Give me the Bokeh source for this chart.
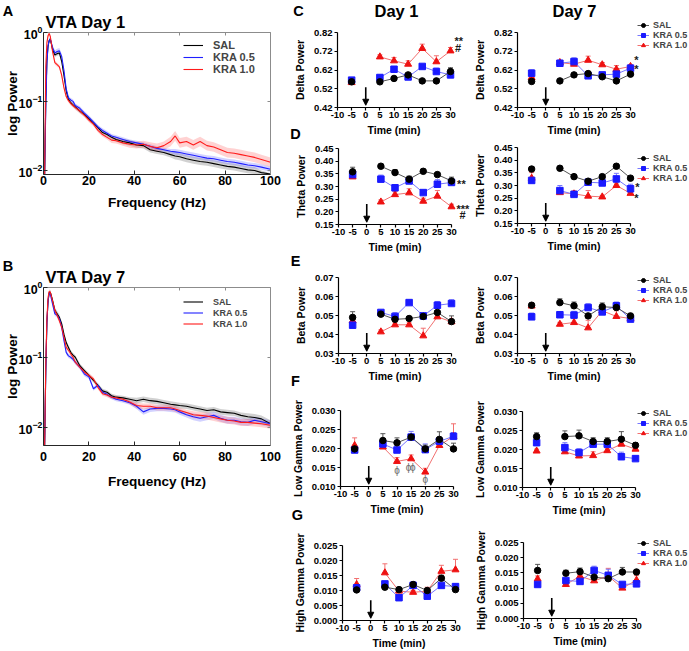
from bokeh.plotting import figure
from bokeh.models import (Range1d, FixedTicker, NumeralTickFormatter, Label, Legend, LegendItem,
                          Whisker, TeeHead, Arrow, NormalHead, ColumnDataSource, LinearAxis, LogAxis,
                          CustomJSTickFormatter)
from bokeh.layouts import row, column
from bokeh.embed import file_html
from bokeh.resources import INLINE
from bokeh.core.properties import value

FONT = "Liberation Sans"

# ---------------- spectra data (log10 power) ----------------
FREQ = [0.5, 1, 1.5, 2, 2.5, 3, 4, 5, 6, 7, 8, 9, 10, 11, 12, 13, 14, 16, 18, 20, 22, 24, 26, 28, 30, 32,
        35, 38, 41, 44, 47, 50, 53, 56, 58, 60, 63, 66, 69, 72, 75, 78, 81, 84, 87, 90, 93, 96, 100]
FREQ_TICKS = [0, 20, 40, 60, 80, 100]
LOG_TICKS = [0.01, 0.1, 1]

A_SAL = [-2.06, -1.0, -0.4, -0.2, -0.12, -0.1, -0.25, -0.33, -0.31, -0.3, -0.42, -0.62, -0.85, -0.97, -1.02, -1.05, -1.08,
         -1.14, -1.19, -1.25, -1.31, -1.38, -1.45, -1.48, -1.52, -1.55, -1.58, -1.6, -1.63, -1.64, -1.7, -1.72, -1.74,
         -1.77, -1.79, -1.8, -1.83, -1.85, -1.87, -1.88, -1.9, -1.92, -1.94, -1.95, -1.97, -1.99, -2.0, -2.03, -2.05]
A_K05 = [-2.06, -1.1, -0.45, -0.2, -0.12, -0.1, -0.22, -0.3, -0.28, -0.27, -0.35, -0.55, -0.82, -0.95, -0.98, -1.0, -1.06,
         -1.1, -1.17, -1.23, -1.3, -1.37, -1.42, -1.46, -1.5, -1.52, -1.55, -1.58, -1.6, -1.62, -1.65, -1.68, -1.7,
         -1.72, -1.73, -1.74, -1.76, -1.78, -1.8, -1.82, -1.83, -1.85, -1.87, -1.88, -1.9, -1.92, -1.93, -1.95, -1.98]
A_K10 = [-2.06, -0.5, -0.15, -0.05, -0.02, -0.06, -0.28, -0.44, -0.47, -0.5, -0.62, -0.8, -0.93, -0.99, -1.03, -1.06, -1.09,
         -1.14, -1.2, -1.27, -1.33, -1.42, -1.48, -1.52, -1.56, -1.57, -1.6, -1.62, -1.63, -1.62, -1.65, -1.67, -1.64,
         -1.58, -1.5, -1.6, -1.58, -1.63, -1.58, -1.64, -1.66, -1.7, -1.74, -1.75, -1.77, -1.79, -1.81, -1.84, -1.88]
A_SAL_W = [0.0, 0.03, 0.03, 0.03, 0.03, 0.03, 0.03, 0.03, 0.03, 0.03, 0.03, 0.03, 0.03, 0.03, 0.03, 0.03, 0.03,
           0.03, 0.03, 0.03, 0.03, 0.03, 0.03, 0.03, 0.03, 0.03, 0.04, 0.04, 0.04, 0.04, 0.04, 0.04, 0.04,
           0.04, 0.05, 0.05, 0.05, 0.05, 0.05, 0.05, 0.05, 0.05, 0.05, 0.05, 0.05, 0.05, 0.05, 0.03, 0.01]
A_K05_W = [0.0, 0.03, 0.03, 0.03, 0.03, 0.03, 0.03, 0.04, 0.04, 0.04, 0.04, 0.03, 0.03, 0.03, 0.03, 0.03, 0.03,
           0.03, 0.03, 0.03, 0.03, 0.03, 0.03, 0.03, 0.03, 0.03, 0.03, 0.03, 0.03, 0.03, 0.03, 0.03, 0.03,
           0.03, 0.04, 0.04, 0.04, 0.04, 0.04, 0.04, 0.04, 0.04, 0.04, 0.04, 0.04, 0.04, 0.04, 0.04, 0.04]
A_K10_W = [0.0, 0.03, 0.03, 0.03, 0.03, 0.03, 0.03, 0.03, 0.03, 0.03, 0.03, 0.03, 0.03, 0.03, 0.03, 0.03, 0.03,
           0.03, 0.03, 0.03, 0.03, 0.03, 0.03, 0.03, 0.04, 0.04, 0.04, 0.05, 0.05, 0.05, 0.06, 0.06, 0.06,
           0.07, 0.07, 0.07, 0.07, 0.07, 0.07, 0.07, 0.07, 0.07, 0.07, 0.07, 0.07, 0.07, 0.07, 0.07, 0.07]

B_SAL = [-2.26, -1.2, -0.5, -0.2, -0.08, -0.07, -0.19, -0.33, -0.38, -0.43, -0.52, -0.67, -0.79, -0.86, -0.93, -0.97, -1.0,
         -1.12, -1.19, -1.26, -1.33, -1.4, -1.48, -1.5, -1.55, -1.57, -1.58, -1.6, -1.62, -1.6, -1.62, -1.63, -1.65,
         -1.67, -1.68, -1.69, -1.7, -1.72, -1.74, -1.76, -1.75, -1.78, -1.79, -1.8, -1.83, -1.85, -1.86, -1.88, -1.95]
B_K05 = [-2.26, -1.2, -0.5, -0.2, -0.08, -0.1, -0.24, -0.38, -0.4, -0.45, -0.57, -0.76, -0.93, -0.98, -1.0, -1.03, -1.07,
         -1.14, -1.24, -1.28, -1.45, -1.4, -1.5, -1.53, -1.57, -1.6, -1.62, -1.65, -1.7, -1.78, -1.74, -1.73, -1.73,
         -1.74, -1.75, -1.78, -1.82, -1.85, -1.87, -1.85, -1.83, -1.87, -1.9, -1.9, -1.92, -1.93, -1.9, -1.92, -1.95]
B_K10 = [-2.26, -1.1, -0.45, -0.15, -0.06, -0.07, -0.2, -0.33, -0.4, -0.48, -0.57, -0.71, -0.86, -0.9, -0.95, -1.0, -1.07,
         -1.14, -1.21, -1.26, -1.31, -1.43, -1.52, -1.54, -1.57, -1.58, -1.6, -1.64, -1.69, -1.7, -1.7, -1.72, -1.72,
         -1.72, -1.74, -1.76, -1.79, -1.82, -1.83, -1.84, -1.86, -1.88, -1.9, -1.91, -1.93, -1.93, -1.94, -1.95, -1.97]
B_SAL_W = [0.0, 0.03, 0.03, 0.03, 0.03, 0.03, 0.04, 0.04, 0.04, 0.04, 0.03, 0.03, 0.03, 0.03, 0.03, 0.03, 0.03,
           0.03, 0.03, 0.03, 0.03, 0.03, 0.03, 0.03, 0.03, 0.03, 0.03, 0.03, 0.04, 0.04, 0.04, 0.04, 0.04,
           0.04, 0.04, 0.04, 0.04, 0.04, 0.04, 0.04, 0.04, 0.04, 0.04, 0.04, 0.04, 0.05, 0.05, 0.05, 0.05]
B_K05_W = [0.0, 0.03, 0.03, 0.03, 0.03, 0.03, 0.03, 0.03, 0.03, 0.03, 0.03, 0.03, 0.03, 0.03, 0.03, 0.03, 0.03,
           0.03, 0.03, 0.03, 0.03, 0.03, 0.03, 0.03, 0.03, 0.03, 0.03, 0.03, 0.04, 0.04, 0.04, 0.04, 0.04,
           0.04, 0.04, 0.04, 0.04, 0.05, 0.05, 0.05, 0.05, 0.05, 0.05, 0.05, 0.05, 0.05, 0.05, 0.05, 0.05]
B_K10_W = [0.0, 0.03, 0.03, 0.03, 0.03, 0.03, 0.04, 0.04, 0.04, 0.04, 0.04, 0.04, 0.03, 0.03, 0.03, 0.03, 0.03,
           0.03, 0.03, 0.03, 0.03, 0.03, 0.03, 0.03, 0.03, 0.03, 0.03, 0.03, 0.04, 0.04, 0.04, 0.04, 0.04,
           0.04, 0.04, 0.04, 0.04, 0.05, 0.05, 0.05, 0.05, 0.05, 0.05, 0.05, 0.05, 0.05, 0.05, 0.05, 0.05]

# ---------------- band power time courses ----------------
TIME = [-5, 5, 10, 15, 20, 25, 30]
TIME_TICKS = [-10, -5, 0, 5, 10, 15, 20, 25, 30]
TIME_TICK_TEXT = {-10: "-10", -5: "-5"}
SERIES = ["SAL", "KRA 0.5", "KRA 1.0"]

DELTA_TICKS = [0.42, 0.52, 0.62, 0.72, 0.82]
DELTA_D1_SAL = [0.557, 0.557, 0.575, 0.594, 0.562, 0.562, 0.612]
DELTA_D1_SAL_E = [0.01, 0.008, 0.008, 0.008, 0.006, 0.01, 0.02]
DELTA_D1_K05 = [0.566, 0.58, 0.624, 0.583, 0.639, 0.612, 0.594]
DELTA_D1_K05_E = [0.01, 0.014, 0.009, 0.014, 0.009, 0.018, 0.012]
DELTA_D1_K10 = [0.553, 0.69, 0.669, 0.651, 0.735, 0.664, 0.722]
DELTA_D1_K10_E = [0.008, 0.011, 0.018, 0.018, 0.023, 0.032, 0.018]
DELTA_D7_SAL = [0.559, 0.562, 0.594, 0.601, 0.584, 0.562, 0.598]
DELTA_D7_SAL_E = [0.008, 0.005, 0.006, 0.008, 0.008, 0.006, 0.006]
DELTA_D7_K05 = [0.603, 0.656, 0.665, 0.589, 0.594, 0.598, 0.63]
DELTA_D7_K05_E = [0.018, 0.016, 0.02, 0.01, 0.01, 0.012, 0.01]
DELTA_D7_K10 = [0.58, 0.66, 0.651, 0.672, 0.648, 0.624, 0.639]
DELTA_D7_K10_E = [0.012, 0.01, 0.01, 0.022, 0.012, 0.02, 0.01]

THETA_TICKS = [0.15, 0.20, 0.25, 0.30, 0.35, 0.40, 0.45]
THETA_D1_SAL = [0.358, 0.38, 0.355, 0.329, 0.36, 0.347, 0.322]
THETA_D1_SAL_E = [0.018, 0.006, 0.012, 0.012, 0.008, 0.008, 0.015]
THETA_D1_K05 = [0.347, 0.329, 0.295, 0.322, 0.276, 0.309, 0.316]
THETA_D1_K05_E = [0.01, 0.016, 0.01, 0.012, 0.006, 0.018, 0.006]
THETA_D1_K10 = [0.338, 0.239, 0.268, 0.275, 0.242, 0.262, 0.22]
THETA_D1_K10_E = [0.01, 0.008, 0.012, 0.016, 0.012, 0.022, 0.01]
THETA_D7_SAL = [0.365, 0.368, 0.335, 0.317, 0.335, 0.376, 0.329]
THETA_D7_SAL_E = [0.01, 0.006, 0.006, 0.006, 0.006, 0.008, 0.006]
THETA_D7_K05 = [0.32, 0.28, 0.265, 0.313, 0.31, 0.326, 0.287]
THETA_D7_K05_E = [0.012, 0.02, 0.01, 0.008, 0.008, 0.022, 0.018]
THETA_D7_K10 = [0.329, 0.272, 0.267, 0.258, 0.255, 0.3, 0.269]
THETA_D7_K10_E = [0.022, 0.008, 0.012, 0.022, 0.006, 0.01, 0.008]

BETA_TICKS = [0.03, 0.04, 0.05, 0.06, 0.07]
BETA_D1_SAL = [0.049, 0.0507, 0.048, 0.0484, 0.0495, 0.0516, 0.0468]
BETA_D1_SAL_E = [0.003, 0.001, 0.001, 0.001, 0.001, 0.001, 0.003]
BETA_D1_K05 = [0.0449, 0.0516, 0.0495, 0.0568, 0.0498, 0.0554, 0.0563]
BETA_D1_K05_E = [0.001, 0.001, 0.002, 0.001, 0.001, 0.002, 0.002]
BETA_D1_K10 = [0.0472, 0.0414, 0.0451, 0.0451, 0.0393, 0.0493, 0.0467]
BETA_D1_K10_E = [0.001, 0.001, 0.001, 0.001, 0.004, 0.003, 0.001]
BETA_D7_SAL = [0.0554, 0.0568, 0.0551, 0.0498, 0.0546, 0.0542, 0.0498]
BETA_D7_SAL_E = [0.001, 0.002, 0.002, 0.001, 0.002, 0.001, 0.001]
BETA_D7_K05 = [0.0493, 0.0504, 0.0502, 0.0542, 0.0519, 0.0551, 0.0481]
BETA_D7_K05_E = [0.002, 0.001, 0.002, 0.002, 0.001, 0.002, 0.001]
BETA_D7_K10 = [0.055, 0.0454, 0.0463, 0.0435, 0.0525, 0.0495, 0.0484]
BETA_D7_K10_E = [0.001, 0.001, 0.002, 0.004, 0.001, 0.003, 0.001]

LGAM_TICKS = [0.010, 0.015, 0.020, 0.025, 0.030]
LGAM_D1_SAL = [0.0199, 0.0221, 0.0215, 0.023, 0.0199, 0.0224, 0.0199]
LGAM_D1_SAL_E = [0.0008, 0.0018, 0.0013, 0.0005, 0.001, 0.002, 0.0015]
LGAM_D1_K05 = [0.0196, 0.0212, 0.0196, 0.023, 0.0197, 0.0219, 0.0232]
LGAM_D1_K05_E = [0.0006, 0.0008, 0.0008, 0.0015, 0.0015, 0.001, 0.001]
LGAM_D1_K10 = [0.0208, 0.0204, 0.0166, 0.0173, 0.0138, 0.0208, 0.0232]
LGAM_D1_K10_E = [0.002, 0.0005, 0.001, 0.001, 0.001, 0.0005, 0.0033]
LGAM_D7_SAL = [0.0234, 0.0234, 0.0236, 0.0221, 0.0221, 0.0227, 0.0211]
LGAM_D7_SAL_E = [0.001, 0.0015, 0.0015, 0.001, 0.001, 0.002, 0.0007]
LGAM_D7_K05 = [0.0218, 0.0205, 0.0192, 0.0214, 0.0214, 0.0181, 0.0176]
LGAM_D7_K05_E = [0.0006, 0.0013, 0.001, 0.001, 0.001, 0.0012, 0.0005]
LGAM_D7_K10 = [0.0196, 0.0194, 0.0183, 0.0184, 0.0197, 0.0214, 0.0201]
LGAM_D7_K10_E = [0.0005, 0.0005, 0.0005, 0.001, 0.0005, 0.001, 0.0005]

HGAM_TICKS = [0.000, 0.005, 0.010, 0.015, 0.020, 0.025]
HGAM_D1_SAL = [0.0102, 0.0111, 0.0103, 0.012, 0.01, 0.0141, 0.0103]
HGAM_D1_SAL_E = [0.0005, 0.0005, 0.0005, 0.0005, 0.0005, 0.001, 0.0005]
HGAM_D1_K05 = [0.0109, 0.0122, 0.0076, 0.0117, 0.0081, 0.0117, 0.0113]
HGAM_D1_K05_E = [0.0005, 0.0005, 0.0005, 0.0012, 0.0005, 0.0005, 0.001]
HGAM_D1_K10 = [0.012, 0.0159, 0.0098, 0.0094, 0.0098, 0.0164, 0.0169]
HGAM_D1_K10_E = [0.002, 0.003, 0.0012, 0.0005, 0.0013, 0.002, 0.0035]
HGAM_D7_SAL = [0.0158, 0.0149, 0.0154, 0.0136, 0.0131, 0.0153, 0.0153]
HGAM_D7_SAL_E = [0.002, 0.001, 0.0012, 0.0005, 0.0005, 0.0015, 0.0005]
HGAM_D7_K05 = [0.0112, 0.0125, 0.0122, 0.0158, 0.0142, 0.0112, 0.0114]
HGAM_D7_K05_E = [0.0005, 0.0005, 0.0005, 0.0014, 0.002, 0.0005, 0.0005]
HGAM_D7_K10 = [0.013, 0.0112, 0.0139, 0.0124, 0.014, 0.01, 0.0126]
HGAM_D7_K10_E = [0.001, 0.0005, 0.0005, 0.0005, 0.0025, 0.0005, 0.0015]

# significance marks: (text, time, value)
NOTES_DELTA_D1 = [("**", 32.9, 0.776), ("#", 32.7, 0.738)]
NOTES_DELTA_D7 = [("*", 32.1, 0.672), ("*", 32.1, 0.624)]
NOTES_THETA_D1 = [("**", 33.5, 0.309), ("***", 34.0, 0.212), ("#", 33.9, 0.186)]
NOTES_THETA_D7 = [("*", 32.4, 0.296), ("*", 32.1, 0.250)]
PHI_LGAM_D1 = [(10, 0.0142), (14.1, 0.0151), (15.6, 0.0151), (20, 0.0118)]

# ---------------- styling helpers ----------------
MARK = {"SAL": "#000000", "KRA 0.5": "#1a1aff", "KRA 1.0": "#ee1111"}
LINE = {"SAL": "#555555", "KRA 0.5": "#7777ff", "KRA 1.0": "#f27070"}
SHAPE = {"SAL": "circle", "KRA 0.5": "square", "KRA 1.0": "triangle"}
MSIZE = {"SAL": 6.5, "KRA 0.5": 6.5, "KRA 1.0": 7.0}
SPEC = {"SAL": "#000000", "KRA 0.5": "#1f1fff", "KRA 1.0": "#ff1a1a"}
BAND = {"SAL": ("#9a9a9a", 0.45), "KRA 0.5": ("#6a6aff", 0.3), "KRA 1.0": ("#ff6a6a", 0.3)}


def extend(v_lo, v_hi, p_lo, p_hi, p_min, p_max):
    s = (v_hi - v_lo) / (p_hi - p_lo)
    return v_lo + (p_min - p_lo) * s, v_lo + (p_max - p_lo) * s


def style_axis(ax, tick_px, lab_px, tin, tout, lsd, alsd, lw=1.0, color="#000000"):
    ax.major_label_text_font = FONT
    ax.major_label_text_font_style = "bold"
    ax.major_label_text_font_size = f"{tick_px}px"
    ax.major_label_text_color = "#000000"
    ax.axis_label_text_font = FONT
    ax.axis_label_text_font_style = "bold"
    ax.axis_label_text_font_size = f"{lab_px}px"
    ax.axis_label_text_color = "#000000"
    ax.major_tick_in = tin
    ax.major_tick_out = tout
    ax.minor_tick_in = 0
    ax.minor_tick_out = 0
    ax.axis_line_color = color
    ax.axis_line_width = lw
    ax.major_tick_line_color = color
    ax.major_tick_line_width = lw
    ax.major_label_standoff = lsd
    ax.axis_label_standoff = alsd


def base_fig(box, xr, yr, log=False):
    x0, y0, x1, y1 = box
    p = figure(width=x1 - x0, height=y1 - y0, x_range=Range1d(*xr), y_range=Range1d(*yr),
               y_axis_type="log" if log else "linear", output_backend="svg", toolbar_location=None,
               min_border_left=0, min_border_right=0, min_border_top=0, min_border_bottom=0)
    p.title.visible = False
    p.grid.visible = False
    p.outline_line_color = None
    return p


def add_text(p, box, text, x, y, size, align="center"):
    x0, y0, x1, y1 = box
    p.add_layout(Label(x=x - x0, y=y1 - y, x_units="screen", y_units="screen", text=text,
                       text_font=FONT, text_font_style="bold", text_font_size=f"{size}px",
                       text_align=align, text_baseline="middle", text_color="#000000"))


def spectrum_fig(box, dbox, ylog_lo, vals, widths, tick_sd, lab_sd, leg_top, leg_row, leg_font, texts):
    x0, y0, x1, y1 = box
    fx0, fy_top, fx1, fy_bot = dbox
    xr = extend(0, 100, fx0, fx1, x0, x1)
    ylo, yhi = extend(ylog_lo, 0.0, -fy_bot, -fy_top, -y1, -y0)
    p = base_fig(box, xr, (10 ** ylo, 10 ** yhi), log=True)
    bottom = 10 ** ylog_lo
    p.xaxis.fixed_location = bottom
    p.yaxis.fixed_location = 0
    p.xaxis.bounds = (0, 100)
    p.yaxis.bounds = (bottom, 1.0)
    p.xaxis.ticker = FixedTicker(ticks=FREQ_TICKS)
    p.yaxis.ticker = FixedTicker(ticks=LOG_TICKS)
    p.xaxis.axis_label = "Frequency (Hz)"
    p.yaxis.axis_label = "log Power"
    style_axis(p.xaxis[0], 12.5, 13.6, 4, 0, tick_sd, lab_sd, 1.0, "#262626")
    style_axis(p.yaxis[0], 12.5, 13.6, 4, 0, 1, -4, 1.0, "#262626")
    blank = CustomJSTickFormatter(code="return ''")
    top = LinearAxis(fixed_location=1.0, ticker=FixedTicker(ticks=FREQ_TICKS), formatter=blank, bounds=(0, 100))
    right = LogAxis(fixed_location=100, ticker=FixedTicker(ticks=LOG_TICKS), formatter=blank, bounds=(bottom, 1.0))
    for ax in (top, right):
        style_axis(ax, 1, 1, 3, 0, 0, 0, 1.0, "#8c8c8c")
    p.add_layout(top, "above")
    p.add_layout(right, "right")
    for name in SERIES:
        v, w = vals[name], widths[name]
        col, alpha = BAND[name]
        p.varea(x=FREQ, y1=[10 ** (a - b) for a, b in zip(v, w)], y2=[10 ** (a + b) for a, b in zip(v, w)],
                fill_color=col, fill_alpha=alpha)
    items = []
    for name in SERIES:
        r = p.line(FREQ, [10 ** a for a in vals[name]], line_color=SPEC[name], line_width=1.1)
        items.append(LegendItem(label=name, renderers=[r]))
    leg = Legend(items=items, location=(183 - x0, y1 - (leg_top + 3 * leg_row)),
                 glyph_width=20, glyph_height=leg_row, label_height=leg_row,
                 spacing=0, padding=0, margin=0, label_standoff=10,
                 label_text_font=FONT, label_text_font_style="bold", label_text_font_size=f"{leg_font}px",
                 background_fill_alpha=0, border_line_alpha=0)
    p.add_layout(leg)
    for (t, x, y, size, align) in texts:
        add_text(p, box, t, x, y, size, align)
    return p


def time_fig(box, dbox, ticks, fmt, ylabel, data, errs, notes=(), phis=(), legend_bottom=None, texts=()):
    x0, y0, x1, y1 = box
    fx0, fy0, fy1 = dbox
    ymin, ymax = ticks[0], ticks[-1]
    xr = extend(-10, 30, fx0, fx0 + 113, x0, x1)
    yr = extend(ymin, ymax, -fy1, -fy0, -y1, -y0)
    p = base_fig(box, xr, yr)
    p.xaxis.fixed_location = ymin
    p.yaxis.fixed_location = -10
    p.xaxis.ticker = FixedTicker(ticks=TIME_TICKS)
    p.xaxis.major_label_overrides = TIME_TICK_TEXT
    p.xaxis.bounds = (-10, 30)
    p.yaxis.ticker = FixedTicker(ticks=ticks)
    p.yaxis.bounds = (ymin, ymax)
    p.yaxis.formatter = NumeralTickFormatter(format=fmt)
    p.xaxis.axis_label = "Time (min)"
    p.yaxis.axis_label = ylabel
    style_axis(p.xaxis[0], 9.5, 10.5, 0, 3, 1, 3, 1.2)
    style_axis(p.yaxis[0], 9.5, 10.5, 0, 3, 2, 5, 1.2)
    rng = ymax - ymin
    p.add_layout(Arrow(end=NormalHead(size=6, fill_color="#000000", line_color="#000000", line_width=1),
                       x_start=0, y_start=ymin + 0.27 * rng, x_end=0, y_end=ymin + 0.03 * rng,
                       line_color="#000000", line_width=1.6))
    rends = {}
    for name in ["KRA 1.0", "KRA 0.5", "SAL"]:
        v, e = data[name], errs[name]
        src = ColumnDataSource(dict(x=TIME, y=v, hi=[a + b for a, b in zip(v, e)]))
        p.add_layout(Whisker(source=src, base="x", lower="y", upper="hi", line_color=LINE[name], line_width=1,
                             upper_head=TeeHead(size=5, line_color=LINE[name], line_width=1),
                             lower_head=None))
        ln = p.line(TIME[1:], v[1:], line_color=LINE[name], line_width=1)
        sc = p.scatter(TIME, v, marker=SHAPE[name], size=MSIZE[name], fill_color=MARK[name],
                       line_color=MARK[name])
        rends[name] = [ln, sc]
    if notes:
        p.text(x=[n[1] for n in notes], y=[n[2] for n in notes], text=[n[0] for n in notes],
               text_font=value(FONT), text_font_style="bold", text_font_size="11px",
               text_align="center", text_baseline="middle", text_color="#1a1a1a")
    if phis:
        p.text(x=[q[0] for q in phis], y=[q[1] for q in phis], text=["ϕ"] * len(phis),
               text_font=value(FONT), text_font_size="10px", text_align="center",
               text_baseline="middle", text_color="#6e6e6e")
    if legend_bottom is not None:
        items = [LegendItem(label=n, renderers=rends[n]) for n in SERIES]
        leg = Legend(items=items, location=(637 - x0, y1 - legend_bottom),
                     glyph_width=12, glyph_height=10, label_height=10, spacing=0, padding=0, margin=0,
                     label_standoff=4, label_text_font=FONT, label_text_font_style="bold",
                     label_text_font_size="9px", background_fill_alpha=0, border_line_alpha=0)
        p.add_layout(leg)
    for (t, x, y, size) in texts:
        add_text(p, box, t, x, y, size)
    return p


# ---------------- left column: spectra ----------------
pA = spectrum_fig((0, 0, 285, 255), (43, 31.7, 270, 174.2), -2.06,
                  {"SAL": A_SAL, "KRA 0.5": A_K05, "KRA 1.0": A_K10},
                  {"SAL": A_SAL_W, "KRA 0.5": A_K05_W, "KRA 1.0": A_K10_W},
                  1, 7, 39, 12, 11,
                  [("A", 7.5, 10, 14.5, "center"), ("VTA Day 1", 45, 21, 16.5, "left")])
pB = spectrum_fig((0, 255, 285, 650), (43, 286.7, 270, 445), -2.26,
                  {"SAL": B_SAL, "KRA 0.5": B_K05, "KRA 1.0": B_K10},
                  {"SAL": B_SAL_W, "KRA 0.5": B_K05_W, "KRA 1.0": B_K10_W},
                  6, 10, 296, 11, 9,
                  [("B", 7.5, 265, 14.5, "center"), ("VTA Day 7", 45, 276, 16.5, "left")])

# ---------------- right: band power panels ----------------
ROW_Y = [0, 141, 268, 389, 523, 650]
COL_X = [285, 470, 688]

panels = [
    dict(ticks=DELTA_TICKS, fmt="0.00", label="Delta Power", f1=(337, 32, 107), f7=(517, 32, 107), leg=50,
         d1=(DELTA_D1_SAL, DELTA_D1_K05, DELTA_D1_K10), e1=(DELTA_D1_SAL_E, DELTA_D1_K05_E, DELTA_D1_K10_E),
         d7=(DELTA_D7_SAL, DELTA_D7_K05, DELTA_D7_K10), e7=(DELTA_D7_SAL_E, DELTA_D7_K05_E, DELTA_D7_K10_E),
         n1=NOTES_DELTA_D1, n7=NOTES_DELTA_D7, phi=(),
         t1=[("C", 298, 10.5, 14.5), ("Day 1", 396, 10, 16.5), ("D", 295, 133, 14.5)],
         t7=[("Day 7", 574, 10, 16.5)]),
    dict(ticks=THETA_TICKS, fmt="0.00", label="Theta Power", f1=(338, 148, 224), f7=(517, 147, 223), leg=183,
         d1=(THETA_D1_SAL, THETA_D1_K05, THETA_D1_K10), e1=(THETA_D1_SAL_E, THETA_D1_K05_E, THETA_D1_K10_E),
         d7=(THETA_D7_SAL, THETA_D7_K05, THETA_D7_K10), e7=(THETA_D7_SAL_E, THETA_D7_K05_E, THETA_D7_K10_E),
         n1=NOTES_THETA_D1, n7=NOTES_THETA_D7, phi=(),
         t1=[("E", 295, 260, 14.5)], t7=[]),
    dict(ticks=BETA_TICKS, fmt="0.00", label="Beta Power", f1=(338, 277, 353), f7=(517, 277, 353), leg=305,
         d1=(BETA_D1_SAL, BETA_D1_K05, BETA_D1_K10), e1=(BETA_D1_SAL_E, BETA_D1_K05_E, BETA_D1_K10_E),
         d7=(BETA_D7_SAL, BETA_D7_K05, BETA_D7_K10), e7=(BETA_D7_SAL_E, BETA_D7_K05_E, BETA_D7_K10_E),
         n1=(), n7=(), phi=(),
         t1=[("F", 295, 380, 14.5)], t7=[]),
    dict(ticks=LGAM_TICKS, fmt="0.000", label="Low Gamma Power", f1=(340, 410, 486), f7=(522, 411, 487),
         leg=438,
         d1=(LGAM_D1_SAL, LGAM_D1_K05, LGAM_D1_K10), e1=(LGAM_D1_SAL_E, LGAM_D1_K05_E, LGAM_D1_K10_E),
         d7=(LGAM_D7_SAL, LGAM_D7_K05, LGAM_D7_K10), e7=(LGAM_D7_SAL_E, LGAM_D7_K05_E, LGAM_D7_K10_E),
         n1=(), n7=(), phi=PHI_LGAM_D1,
         t1=[("G", 297, 514, 14.5)], t7=[]),
    dict(ticks=HGAM_TICKS, fmt="0.000", label="High Gamma Power", f1=(342, 545, 620), f7=(523, 542, 618),
         leg=568,
         d1=(HGAM_D1_SAL, HGAM_D1_K05, HGAM_D1_K10), e1=(HGAM_D1_SAL_E, HGAM_D1_K05_E, HGAM_D1_K10_E),
         d7=(HGAM_D7_SAL, HGAM_D7_K05, HGAM_D7_K10), e7=(HGAM_D7_SAL_E, HGAM_D7_K05_E, HGAM_D7_K10_E),
         n1=(), n7=(), phi=(),
         t1=[], t7=[]),
]

rows = []
for i, cfg in enumerate(panels):
    ya, yb = ROW_Y[i], ROW_Y[i + 1]
    p1 = time_fig((COL_X[0], ya, COL_X[1], yb), cfg["f1"], cfg["ticks"], cfg["fmt"], cfg["label"],
                  dict(zip(SERIES, cfg["d1"])), dict(zip(SERIES, cfg["e1"])),
                  notes=cfg["n1"], phis=cfg["phi"], texts=cfg["t1"])
    p7 = time_fig((COL_X[1], ya, COL_X[2], yb), cfg["f7"], cfg["ticks"], cfg["fmt"], cfg["label"],
                  dict(zip(SERIES, cfg["d7"])), dict(zip(SERIES, cfg["e7"])),
                  notes=cfg["n7"], legend_bottom=cfg["leg"], texts=cfg["t7"])
    rows.append(row(p1, p7))

layout = row(column(pA, pB), column(*rows))
open("out.html", "w").write(file_html(layout, INLINE))
